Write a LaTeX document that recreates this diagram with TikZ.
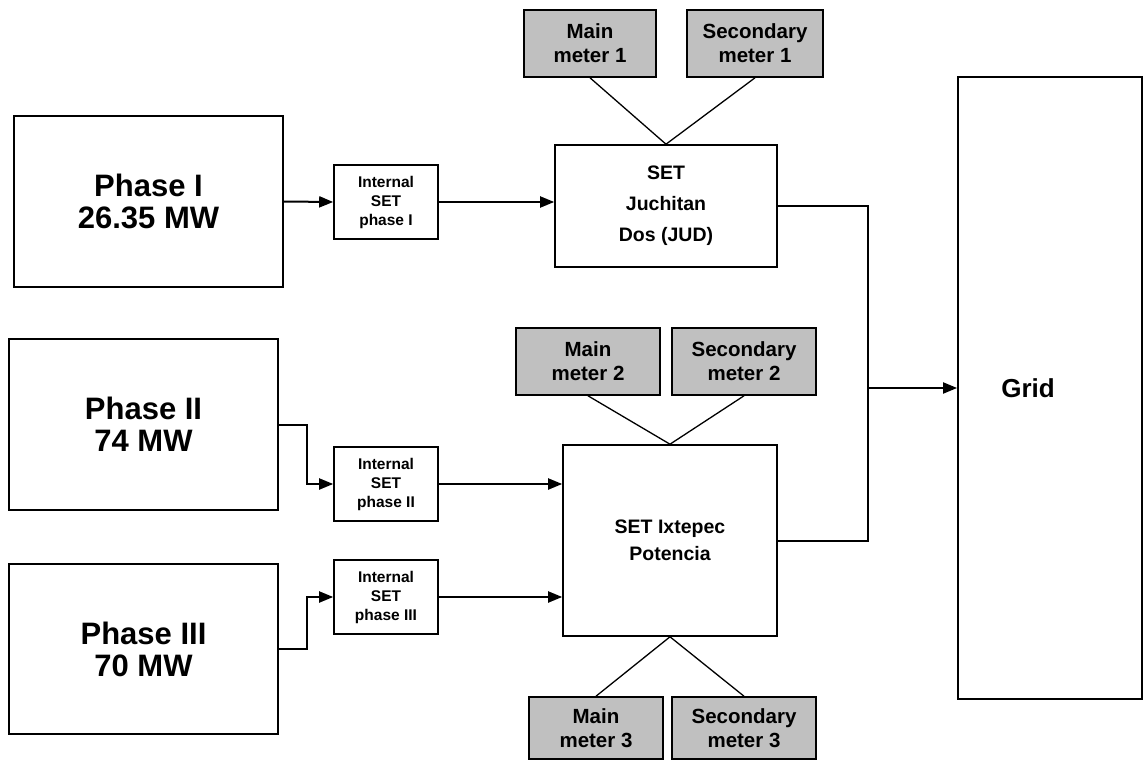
\documentclass[tikz,border=0pt]{standalone}
\usepackage{fontspec}
\setmainfont{Liberation Sans}
\usepackage{tikz}
\usetikzlibrary{arrows.meta,calc,positioning}
\definecolor{meterfill}{RGB}{192,192,192}

\begin{document}
\begin{tikzpicture}[
    x=1pt, y=-1pt,
    phase/.style={draw, line width=1.8pt, minimum width=269pt, minimum height=171pt,
                  align=center, font=\bfseries\fontsize{31}{32}\selectfont},
    internal/.style={draw, line width=1.6pt, minimum width=104pt, minimum height=74pt,
                     align=center, font=\bfseries\fontsize{15.5}{19}\selectfont},
    station/.style={draw, line width=1.6pt, align=center,
                    font=\bfseries\fontsize{19.5}{31}\selectfont},
    meter/.style={draw, line width=1.6pt, fill=meterfill, minimum height=67pt,
                  align=center, font=\bfseries\fontsize{20.5}{24}\selectfont},
    arrow/.style={-{Triangle[length=14pt,width=11pt]}, line width=2pt},
    link/.style={line width=1.3pt}
]
\useasboundingbox (0,0) rectangle (1144,760);

\node[phase] (ph1) at (148.5,201.5) {Phase I\\26.35 MW};
\node[phase] (ph2) at (143.5,424.5) {Phase II\\74 MW};
\node[phase, minimum height=170pt] (ph3) at (143.5,649) {Phase III\\70 MW};

\node[internal] (int1) at (386,202) {Internal\\SET\\phase I};
\node[internal] (int2) at (386,484) {Internal\\SET\\phase II};
\node[internal] (int3) at (386,597) {Internal\\SET\\phase III};

\node[station, minimum width=222pt, minimum height=122pt] (jud) at (666,206)
    {SET\\Juchitan\\Dos (JUD)};
\node[station, minimum width=214pt, minimum height=191pt,
      font=\bfseries\fontsize{19.5}{27}\selectfont] (ixt) at (670,540.5)
    {SET Ixtepec\\Potencia};

\node[meter, minimum width=132pt] (main1) at (590,43.5) {Main\\meter 1};
\node[meter, minimum width=136pt] (sec1) at (755,43.5) {Secondary\\meter 1};
\node[meter, minimum width=144pt] (main2) at (588,361.5) {Main\\meter 2};
\node[meter, minimum width=144pt] (sec2) at (744,361.5) {Secondary\\meter 2};
\node[meter, minimum width=134pt, minimum height=62pt] (main3) at (596,728) {Main\\meter 3};
\node[meter, minimum width=144pt, minimum height=62pt] (sec3) at (744,728) {Secondary\\meter 3};

\node[draw, line width=1.8pt, minimum width=184pt, minimum height=622pt,
      label={[xshift=-22pt, font=\bfseries\fontsize{26}{30}\selectfont]center:Grid}]
    (grid) at (1050,388) {};

% plant feeders
\draw[arrow] (ph1.east) -- (int1.west);
\draw[arrow] (ph2.east) -- ++(28,0) |- (int2.west);
\draw[arrow] (ph3.east) -- ++(28,0) |- (int3.west);
\draw[arrow] (int1.east) -- (int1.east -| jud.west);
\draw[arrow] (int2.east) -- (int2.east -| ixt.west);
\draw[arrow] (int3.east) -- (int3.east -| ixt.west);

% metering
\draw[link] (main1.south) -- (jud.north);
\draw[link] (sec1.south) -- (jud.north);
\draw[link] (main2.south) -- (ixt.north);
\draw[link] (sec2.south) -- (ixt.north);
\draw[link] (main3.north) -- (ixt.south);
\draw[link] (sec3.north) -- (ixt.south);

% to the grid
\coordinate (bus) at (868,388);
\draw[arrow] (jud.east) -| (bus) -- (grid.west);
\draw[line width=2pt] (ixt.east) -| (bus);
\end{tikzpicture}
\end{document}
